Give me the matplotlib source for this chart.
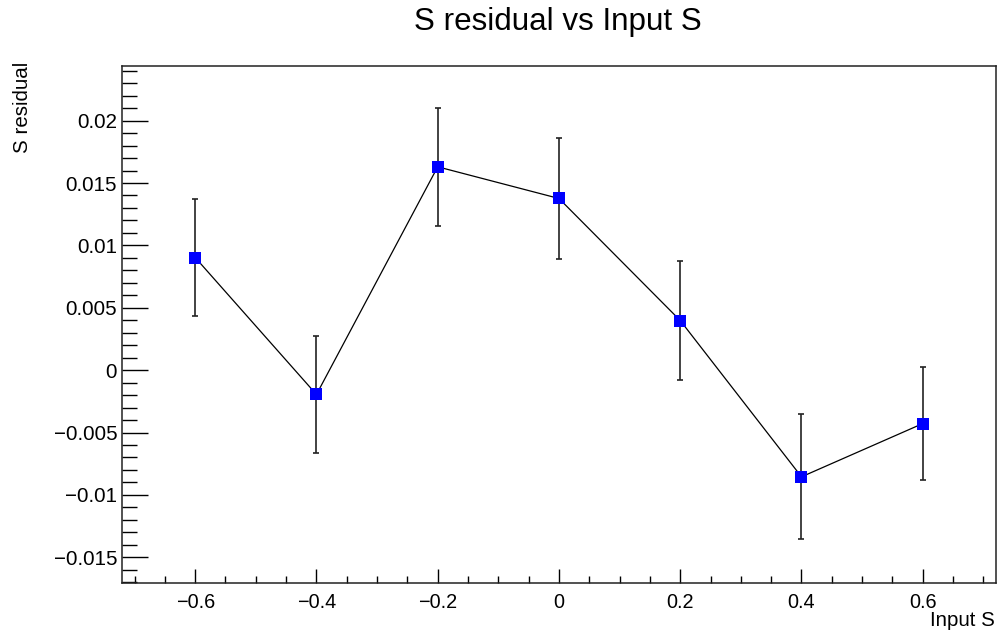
import matplotlib
matplotlib.use("Agg")
import matplotlib.pyplot as plt
from matplotlib.ticker import MultipleLocator, FuncFormatter

x_vals = [-0.6, -0.4, -0.2, 0.0, 0.2, 0.4, 0.6]
y_vals = [0.00903, -0.00195, 0.01630, 0.01376, 0.00398, -0.00855, -0.00428]
y_errs = [0.00472, 0.00470, 0.00472, 0.00485, 0.00480, 0.00502, 0.00452]

title = "S residual vs Input S"
xlabel = "Input S"
ylabel = "S residual"

plt.rcParams['font.family'] = ['Liberation Sans', 'DejaVu Sans']

W, H = 999, 631
fig = plt.figure(figsize=(W / 100, H / 100), dpi=100)
ax = fig.add_axes([122 / W, 1 - 583 / H, (996 - 122) / W, (583 - 66) / H])

ax.errorbar(x_vals, y_vals, yerr=y_errs, fmt='none', ecolor='#222222',
            elinewidth=1.2, capsize=2.5, capthick=1.2, zorder=2)
ax.plot(x_vals, y_vals, color='black', lw=0.9, zorder=3)
ax.plot(x_vals, y_vals, linestyle='none', marker='s', markersize=8.2,
        color='#0000ff', markeredgewidth=0, zorder=4)

ax.set_xlim(-0.7207, 0.7208)
ax.set_ylim(-0.01706, 0.02438)

ax.xaxis.set_major_locator(MultipleLocator(0.2))
ax.xaxis.set_minor_locator(MultipleLocator(0.05))
ax.yaxis.set_major_locator(MultipleLocator(0.005))
ax.yaxis.set_minor_locator(MultipleLocator(0.001))

def fmt(v, pos):
    if abs(v) < 1e-12:
        return "0"
    s = ("%.3f" % v).rstrip('0').rstrip('.')
    return s.replace('-', '\u2212')

ax.xaxis.set_major_formatter(FuncFormatter(fmt))
ax.yaxis.set_major_formatter(FuncFormatter(fmt))

ax.tick_params(axis='x', which='major', direction='in', length=10, width=1,
               labelsize=14.3, pad=7, top=False)
ax.tick_params(axis='x', which='minor', direction='in', length=5, width=1, top=False)
ax.tick_params(axis='y', which='major', direction='in', length=19, width=1,
               labelsize=14.8, pad=3.5, right=False)
ax.tick_params(axis='y', which='minor', direction='in', length=10.5, width=1, right=False)

for sp in ax.spines.values():
    sp.set_linewidth(1.1)
    sp.set_color('#222222')

fig.text(558 / W, 1 - 22 / H, title, ha='center', va='center', fontsize=22.6)
fig.text(22.5 / W, 1 - 62 / H, ylabel, ha='center', va='top', rotation=90, fontsize=14.8)
fig.text(995 / W, 1 - 626 / H, xlabel, ha='right', va='baseline', fontsize=14.8)

fig.savefig("out.png", dpi=100)
